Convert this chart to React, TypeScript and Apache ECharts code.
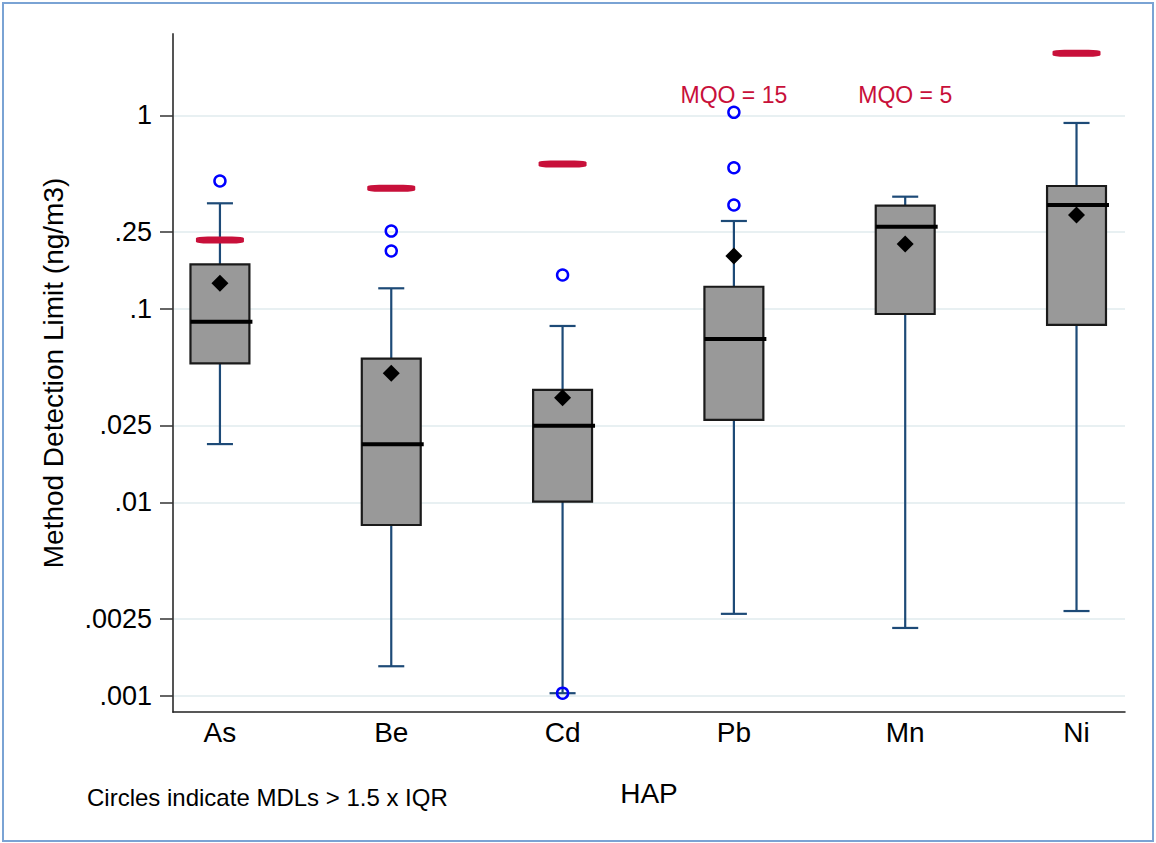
import React, { useEffect, useRef } from "react";
import * as echarts from "echarts";

const categories = ["As", "Be", "Cd", "Pb", "Mn", "Ni"];
const whiskerLow = [0.02, 0.00142, 0.00103, 0.00265, 0.00224, 0.00274];
const q1 = [0.0523, 0.00763, 0.01007, 0.02665, 0.0941, 0.0826];
const median = [0.0859, 0.01995, 0.0249, 0.0699, 0.2661, 0.3445];
const q3 = [0.17, 0.0553, 0.0381, 0.1302, 0.3418, 0.432];
const whiskerHigh = [0.3516, 0.1278, 0.0816, 0.2848, 0.3804, 0.915];
const means = [0.1356, 0.0465, 0.0347, 0.1877, 0.2166, 0.3059];
const outlierCats = ["As", "Be", "Be", "Cd", "Cd", "Pb", "Pb", "Pb"];
const outlierValues = [0.4585, 0.2527, 0.1993, 0.1497, 0.00103, 1.039, 0.537, 0.3445];
const mqo: (number | null)[] = [0.227, 0.42, 0.561, null, null, 2.097];
const mqoNotes = ["", "", "", "MQO = 15", "MQO = 5", ""];
const MQO_NOTE_AT = 1.28;
const yTickValues = [1, 0.25, 0.1, 0.025, 0.01, 0.0025, 0.001];
const yTickLabels = ["1", ".25", ".1", ".025", ".01", ".0025", ".001"];

const FONT = "'Liberation Sans', Arial, sans-serif";
const WHISKER = "#1d4a77";
const RED = "#c8103a";
const lg = (v: number) => Math.log10(v);

export default function App() {
  const ref = useRef<HTMLDivElement>(null);
  useEffect(() => {
    if (!ref.current) return;
    const chart = echarts.init(ref.current, undefined, { renderer: "svg" });
    const yTicks = yTickValues.map(lg);
    const boxData = categories.map((_, i) => [
      i,
      lg(whiskerLow[i]),
      lg(q1[i]),
      lg(median[i]),
      lg(q3[i]),
      lg(whiskerHigh[i]),
    ]);
    const option: any = {
      animation: false,
      backgroundColor: "#ffffff",
      textStyle: { fontFamily: FONT },
      grid: { left: 173, right: 31, top: 34, bottom: 131, containLabel: false },
      xAxis: {
        type: "value",
        min: -0.274,
        max: 5.283,
        name: "HAP",
        nameLocation: "middle",
        nameGap: 67,
        nameTextStyle: { fontFamily: FONT, fontSize: 28, color: "#000" },
        axisLine: { show: true, onZero: false, lineStyle: { color: "#222", width: 1.5 } },
        axisTick: { show: false },
        splitLine: { show: false },
        axisLabel: {
          customValues: [0, 1, 2, 3, 4, 5],
          formatter: (v: number) => categories[Math.round(v)] ?? "",
          fontFamily: FONT,
          fontSize: 28,
          color: "#000",
          margin: 6,
        },
      },
      yAxis: {
        type: "value",
        min: -3.0843,
        max: 0.4214,
        name: "Method Detection Limit (ng/m3)",
        nameLocation: "middle",
        nameGap: 106,
        nameTextStyle: { fontFamily: FONT, fontSize: 28, color: "#000" },
        axisLine: { show: true, onZero: false, lineStyle: { color: "#555", width: 2 } },
        axisTick: {
          show: true,
          customValues: yTicks,
          length: 13,
          lineStyle: { color: "#333", width: 1.5 },
        },
        splitLine: { show: true, lineStyle: { color: "#e8f0f2", width: 2 } },
        axisLabel: {
          customValues: yTicks,
          formatter: (v: number) => {
            const k = yTicks.findIndex((t) => Math.abs(t - v) < 1e-6);
            return k >= 0 ? yTickLabels[k] : "";
          },
          fontFamily: FONT,
          fontSize: 27,
          color: "#000",
          margin: 21,
        },
      },
      graphic: [
        {
          type: "rect",
          shape: { x: 3, y: 3, width: 1150, height: 838 },
          style: { fill: "none", stroke: "#7aa3d4", lineWidth: 2 },
          silent: true,
        },
        {
          type: "text",
          x: 87,
          y: 797,
          style: {
            text: "Circles indicate MDLs > 1.5 x IQR",
            fontFamily: FONT,
            fontSize: 24,
            fill: "#000",
            textVerticalAlign: "middle",
          },
        },
      ],
      series: [
        {
          type: "custom",
          z: 2,
          data: boxData,
          encode: { x: 0, y: [1, 2, 3, 4, 5] },
          renderItem: (params: any, api: any) => {
            const x = api.value(0);
            const lo = api.coord([x, api.value(1)]);
            const b1 = api.coord([x, api.value(2)]);
            const md = api.coord([x, api.value(3)]);
            const b3 = api.coord([x, api.value(4)]);
            const hi = api.coord([x, api.value(5)]);
            const bw = api.size([0.344, 0])[0];
            const cw = api.size([0.152, 0])[0];
            const cx = lo[0];
            const ws = { stroke: WHISKER, lineWidth: 2.2 };
            return {
              type: "group",
              children: [
                { type: "line", shape: { x1: cx, y1: hi[1], x2: cx, y2: b3[1] }, style: ws },
                { type: "line", shape: { x1: cx, y1: b1[1], x2: cx, y2: lo[1] }, style: ws },
                { type: "line", shape: { x1: cx - cw / 2, y1: hi[1], x2: cx + cw / 2, y2: hi[1] }, style: ws },
                { type: "line", shape: { x1: cx - cw / 2, y1: lo[1], x2: cx + cw / 2, y2: lo[1] }, style: ws },
                {
                  type: "rect",
                  shape: { x: cx - bw / 2, y: b3[1], width: bw, height: b1[1] - b3[1] },
                  style: { fill: "#999999", stroke: "#1a1a1a", lineWidth: 2.2 },
                },
                {
                  type: "line",
                  shape: { x1: cx - bw / 2, y1: md[1], x2: cx + bw / 2 + 3, y2: md[1] },
                  style: { stroke: "#000", lineWidth: 4 },
                },
              ],
            };
          },
        },
        {
          type: "scatter",
          z: 3,
          symbol: "diamond",
          symbolSize: 17,
          itemStyle: { color: "#000", opacity: 1 },
          data: means.map((v, i) => [i, lg(v)]),
        },
        {
          type: "scatter",
          z: 4,
          symbol: "circle",
          symbolSize: 11,
          itemStyle: { color: "rgba(0,0,0,0)", borderColor: "#0000ff", borderWidth: 2.5, opacity: 1 },
          data: outlierValues.map((v, i) => [categories.indexOf(outlierCats[i]), lg(v)]),
        },
        {
          type: "scatter",
          z: 4,
          symbol: "roundRect",
          symbolSize: [48, 7],
          itemStyle: { color: RED, opacity: 1 },
          data: mqo
            .map((v, i) => (v == null ? null : [i, lg(v)]))
            .filter((d) => d != null),
        },
        {
          type: "scatter",
          z: 4,
          symbolSize: 1,
          itemStyle: { color: "rgba(0,0,0,0)", opacity: 1 },
          label: {
            show: true,
            position: "inside",
            formatter: (p: any) => mqoNotes[p.value[0]],
            fontFamily: FONT,
            fontSize: 23,
            color: RED,
            opacity: 1,
          },
          data: mqoNotes
            .map((t, i) => (t ? [i, lg(MQO_NOTE_AT)] : null))
            .filter((d) => d != null),
        },
      ],
    };
    chart.setOption(option);
    return () => chart.dispose();
  }, []);
  return (
    <div
      ref={ref}
      style={{ position: "fixed", left: 0, top: 0, width: 1156, height: 843, background: "#fff" }}
    />
  );
}
